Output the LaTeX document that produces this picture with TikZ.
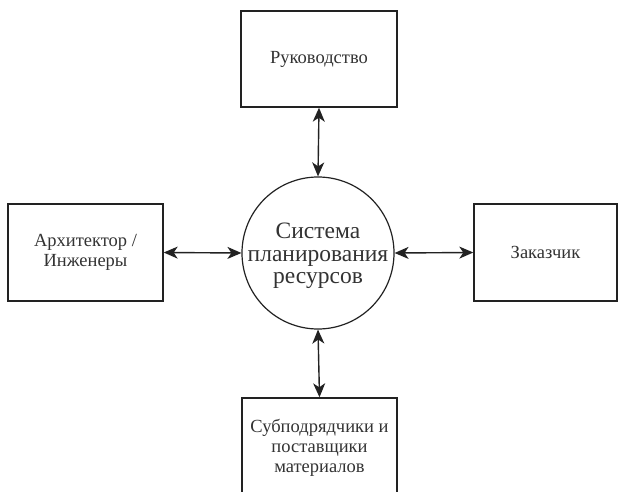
\documentclass[tikz,border=0pt]{standalone}
\usepackage{fontspec}
\setmainfont{Liberation Serif}
\usetikzlibrary{arrows.meta}
\definecolor{ink}{HTML}{222222}
\definecolor{txt}{HTML}{333333}
\begin{document}
\begin{tikzpicture}[x=1pt,y=-1pt,
  box/.style={draw=ink,line width=1.4pt,rectangle,inner sep=0pt,text=txt,align=center,font=\fontsize{18.5}{20}\selectfont},
  sys/.style={draw=ink,line width=1.2pt,circle,inner sep=0pt,minimum size=152pt},
  systxt/.style={text=txt,align=center,font=\fontsize{23.5}{22.5}\selectfont},
  link/.style={draw=ink,line width=1.4pt,{Stealth[length=14pt,width=12pt,inset=4pt]}-{Stealth[length=14pt,width=12pt,inset=4pt]}}]
\useasboundingbox (0,0) rectangle (624,492);
\clip (0,0) rectangle (624,492);
\fill[white] (0,0) rectangle (624,492);
\node[sys] (s) at (318,253) {};
\node[systxt] (st) at (318,256) {Система\\планирования\\ресурсов};
\node[box,minimum width=156pt,minimum height=96pt] (top) at (319,59) {Руководство};
\node[box,minimum width=155pt,minimum height=97pt] (left) at (85.5,252.5) {Архитектор /\\Инженеры};
\node[box,minimum width=143pt,minimum height=97pt] (right) at (545.5,252.5) {Заказчик};
\node[box,minimum width=155pt,minimum height=100pt] (bot) at (319.5,448) {Субподрядчики и\\поставщики\\материалов};
\draw[link] (top.south) -- (s.north);
\draw[link] (left.east) -- (s.west);
\draw[link] (s.east) -- (right.west);
\draw[link] (s.south) -- (bot.north);
\end{tikzpicture}
\end{document}
